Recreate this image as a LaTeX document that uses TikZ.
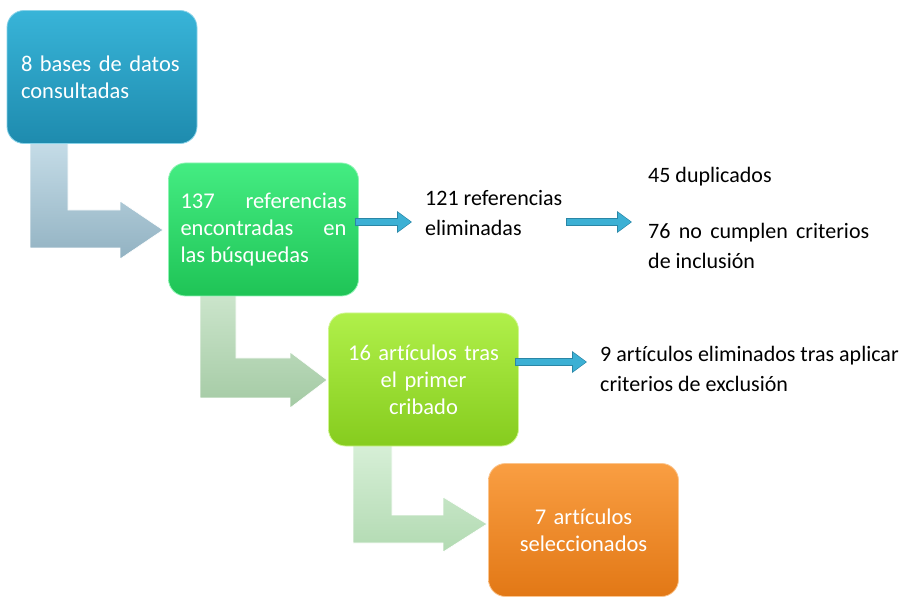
\documentclass[tikz,border=0pt]{standalone}
\usepackage{fontspec}
\setmainfont[Ligatures=NoCommon]{Carlito}
\usetikzlibrary{arrows.meta,calc}
\definecolor{bAtop}{HTML}{38B4D8}\definecolor{bAbot}{HTML}{1E8BAE}
\definecolor{bBtop}{HTML}{44EC82}\definecolor{bBbot}{HTML}{1FC456}
\definecolor{bCtop}{HTML}{B0F04A}\definecolor{bCbot}{HTML}{86CC1E}
\definecolor{bDtop}{HTML}{F99E42}\definecolor{bDbot}{HTML}{E27816}
\definecolor{arrA}{HTML}{3CB0D4}\definecolor{arrAd}{HTML}{2A86A6}
\definecolor{bendAtop}{HTML}{C6DDE8}\definecolor{bendAbot}{HTML}{92B2C2}
\definecolor{bendBtop}{HTML}{CDE6CD}\definecolor{bendBbot}{HTML}{A4CAA4}
\definecolor{bendCtop}{HTML}{D8F0D8}\definecolor{bendCbot}{HTML}{B2DAB2}
\tikzset{
  stepbox/.style={rectangle, rounded corners=17pt, minimum width=190pt, minimum height=133pt,
     inner sep=0pt, text=white, font=\fontsize{22.5}{27}\selectfont, line width=0.8pt},
  plain/.style={inner sep=0pt, text=black, font=\fontsize{22}{29.5}\selectfont},
  bluearrow/.style={line width=6pt, arrA, -{Triangle[length=13pt,width=18pt]}},
  bluerim/.style={line width=8pt, arrAd, -{Triangle[length=15pt,width=21pt]}},
  bentshape/.style={draw=white, line width=0.6pt}
}
\begin{document}
\hyphenpenalty=10000
\exhyphenpenalty=10000
\begin{tikzpicture}[x=1pt,y=-1pt]
\useasboundingbox (0,0) rectangle (905,601);
% bent arrows
\path[bentshape, top color=bendAtop, bottom color=bendAbot]
  (30,140) -- (68,140) -- (68,210) -- (120,210) -- (120,201) -- (163,230) -- (120,259) -- (120,248) -- (30,248) -- cycle;
\path[bentshape, top color=bendBtop, bottom color=bendBbot]
  (200,290) -- (236,290) -- (236,358) -- (290,358) -- (290,352) -- (327,380) -- (290,408) -- (290,398) -- (200,398) -- cycle;
\path[bentshape, top color=bendCtop, bottom color=bendCbot]
  (353,440) -- (392,440) -- (392,515) -- (443,515) -- (443,497) -- (487,524) -- (443,552) -- (443,543) -- (353,543) -- cycle;
% boxes
\node[stepbox, top color=bAtop, bottom color=bAbot, draw=bAtop!60!white, text width=162pt, align=left]
  (b1) at (102,77) {8 bases de datos consultadas};
\node[stepbox, top color=bBtop, bottom color=bBbot, draw=bBtop!60!white, text width=166pt, align=justify]
  (b2) at (263.5,229.5) {137 referencias encontradas en las búsquedas};
\node[stepbox, top color=bCtop, bottom color=bCbot, draw=bCtop!60!white, text width=172pt, align=center]
  (b3) at (423.5,379.5) {16 artículos tras\\el primer\\cribado};
\node[stepbox, top color=bDtop, bottom color=bDbot, draw=bDtop!60!white, text width=172pt, align=center]
  (b4) at (583.5,530) {7 artículos\\seleccionados};
% texts
\node[plain, anchor=west, align=left] (t1) at (425,213) {121 referencias\\eliminadas};
\node[plain, anchor=west] (t2a) at (648,177) {45 duplicados};
\node[plain, anchor=west, text width=221pt, align=justify] (t2b) at (648,246) {76 no cumplen criterios de inclusión};
\node[plain, anchor=west, align=left] (t3) at (600,369) {9 artículos eliminados tras aplicar\\criterios de exclusión};
% small arrows
\coordinate (a1e) at (411,222);
\coordinate (a2s) at (567,222);
\coordinate (a2e) at (631,222);
\coordinate (a3e) at (586,362);
\draw[bluerim] ($(b2.east |- a1e)+(-4,0)$) -- ($(a1e)+(1,0)$);
\draw[bluearrow] ($(b2.east |- a1e)+(-3,0)$) -- (a1e);
\draw[bluerim] ($(a2s)+(-1,0)$) -- ($(a2e)+(1,0)$);
\draw[bluearrow] (a2s) -- (a2e);
\draw[bluerim] ($(b3.east |- a3e)+(-4,0)$) -- ($(a3e)+(1,0)$);
\draw[bluearrow] ($(b3.east |- a3e)+(-3,0)$) -- (a3e);
\end{tikzpicture}
\end{document}
